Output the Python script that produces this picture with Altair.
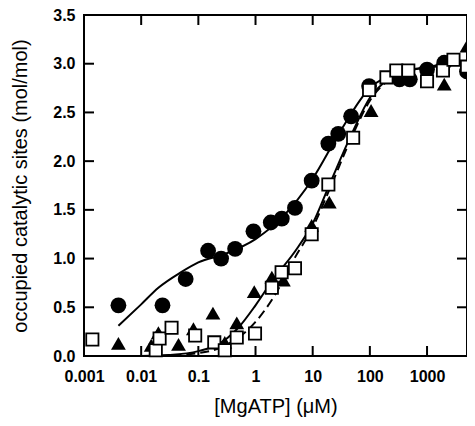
import altair as alt
import pandas as pd

# ---- data ----
circ_x = [0.004, 0.0236, 0.06, 0.148, 0.25, 0.44, 0.92, 1.85, 2.88, 4.9, 9.6, 18.8, 28, 47, 97, 330, 500, 1000, 2000, 5000]
circ_y = [0.52, 0.52, 0.79, 1.08, 1.00, 1.10, 1.28, 1.37, 1.41, 1.52, 1.80, 2.18, 2.28, 2.46, 2.77, 2.84, 2.84, 2.94, 3.01, 2.92]

tri_x = [0.004, 0.015, 0.020, 0.045, 0.082, 0.18, 0.29, 0.47, 0.95, 1.93, 3.07, 9.6, 19.5, 105, 2000, 5000]
tri_y = [0.13, 0.11, 0.24, 0.12, 0.28, 0.44, 0.14, 0.34, 0.66, 0.81, 0.78, 1.34, 1.58, 2.52, 2.79, 3.18]

sq_x = [0.0014, 0.018, 0.021, 0.034, 0.088, 0.19, 0.29, 0.47, 0.98, 1.93, 2.86, 4.9, 9.6, 18.8, 51, 97, 195, 290, 470, 1000, 1900, 2900, 5000]
sq_y = [0.17, 0.06, 0.18, 0.29, 0.21, 0.14, 0.06, 0.19, 0.23, 0.70, 0.86, 0.90, 1.25, 1.76, 2.24, 2.73, 2.86, 2.93, 2.93, 2.82, 2.93, 3.04, 2.97]

# fitted curves
fitc_x = [0.004, 0.01, 0.02, 0.05, 0.1, 0.3, 1, 3, 10, 30, 100, 300, 1000, 5000]
fitc_y = [0.31, 0.53, 0.70, 0.86, 0.96, 1.05, 1.20, 1.43, 1.82, 2.30, 2.75, 2.90, 2.96, 3.00]

fitt_x = [0.01, 0.03, 0.1, 0.3, 0.5, 1, 2, 5, 10, 20, 50, 100, 200, 500, 1000, 5000]
fitt_y = [0.0, 0.01, 0.05, 0.17, 0.29, 0.52, 0.78, 1.08, 1.36, 1.77, 2.30, 2.65, 2.83, 2.93, 2.97, 3.00]

fits_x = [0.02, 0.1, 0.3, 1, 2, 5, 10, 20, 50, 100, 200, 500, 1000, 5000]
fits_y = [0.0, 0.03, 0.11, 0.35, 0.59, 1.02, 1.32, 1.72, 2.27, 2.62, 2.82, 2.93, 2.97, 3.00]

x_ticks = [0.001, 0.01, 0.1, 1, 10, 100, 1000]
y_ticks = [0.0, 0.5, 1.0, 1.5, 2.0, 2.5, 3.0, 3.5]
x_inner_ticks = [0.01, 0.1, 1, 10, 100, 1000]
y_inner_ticks = [0.5, 1.0, 1.5, 2.0, 2.5, 3.0]

W, H = 383, 341
FONT = "Liberation Sans"

xs = alt.Scale(type="log", domain=[0.001, 5000], nice=False)
ys = alt.Scale(domain=[0, 3.5], nice=False)

xaxis = alt.Axis(values=x_ticks, format="~g", ticks=False, domain=False, grid=False,
                 labelFont=FONT, labelFontSize=16, labelFontWeight="bold", labelColor="black",
                 labelPadding=12, labelFlush=False,
                 title="[MgATP] (\u03bcM)", titleFont=FONT, titleFontSize=20,
                 titleFontWeight="normal", titleColor="black", titlePadding=12)
yaxis = alt.Axis(values=y_ticks, format=".1f", ticks=False, domain=False, grid=False,
                 labelFont=FONT, labelFontSize=16, labelFontWeight="bold", labelColor="black",
                 labelPadding=9, labelFlush=False,
                 title="occupied catalytic sites (mol/mol)", titleFont=FONT, titleFontSize=20,
                 titleFontWeight="normal", titleColor="black", titlePadding=22)

def pts(xv, yv):
    return pd.DataFrame({"x": xv, "y": yv})

X = alt.X("x:Q", scale=xs, axis=xaxis)
Y = alt.Y("y:Q", scale=ys, axis=yaxis)

line_c = alt.Chart(pts(fitc_x, fitc_y)).mark_line(color="black", strokeWidth=2, interpolate="monotone").encode(x=X, y=Y)
line_t = alt.Chart(pts(fitt_x, fitt_y)).mark_line(color="black", strokeWidth=2, interpolate="monotone").encode(x=X, y=Y)
line_s = alt.Chart(pts(fits_x, fits_y)).mark_line(color="black", strokeWidth=2, strokeDash=[9, 5], interpolate="monotone").encode(x=X, y=Y)

p_c = alt.Chart(pts(circ_x, circ_y)).mark_point(shape="circle", filled=True, color="black", size=250, opacity=1).encode(x=X, y=Y)
p_t = alt.Chart(pts(tri_x, tri_y)).mark_point(shape="triangle-up", filled=True, color="black", size=220, opacity=1).encode(x=X, y=Y)
p_s = alt.Chart(pts(sq_x, sq_y)).mark_point(shape="square", filled=True, fill="white", stroke="black", strokeWidth=1.8, size=150, opacity=1).encode(x=X, y=Y)

tick_bottom = alt.Chart(pd.DataFrame({"x": x_inner_ticks})).mark_rule(color="black", strokeWidth=2).encode(
    x=alt.X("x:Q", scale=xs), y=alt.value(H), y2=alt.value(H - 10))
tick_top = alt.Chart(pd.DataFrame({"x": x_inner_ticks})).mark_rule(color="black", strokeWidth=2).encode(
    x=alt.X("x:Q", scale=xs), y=alt.value(0), y2=alt.value(10))
tick_left = alt.Chart(pd.DataFrame({"y": y_inner_ticks})).mark_rule(color="black", strokeWidth=2).encode(
    y=alt.Y("y:Q", scale=ys), x=alt.value(0), x2=alt.value(10))
tick_right = alt.Chart(pd.DataFrame({"y": y_inner_ticks})).mark_rule(color="black", strokeWidth=2).encode(
    y=alt.Y("y:Q", scale=ys), x=alt.value(W), x2=alt.value(W - 10))

chart = alt.layer(
    tick_bottom, tick_top, tick_left, tick_right,
    line_c, line_t, line_s, p_c, p_t, p_s
).properties(
    width=W, height=H,
    autosize=alt.AutoSizeParams(type="none"),
    padding={"left": 76, "top": 7, "right": 0, "bottom": 62},
    background="white",
).configure_view(stroke="black", strokeWidth=2)

chart.save("out.html", embed_options={"renderer": "svg", "actions": False})
